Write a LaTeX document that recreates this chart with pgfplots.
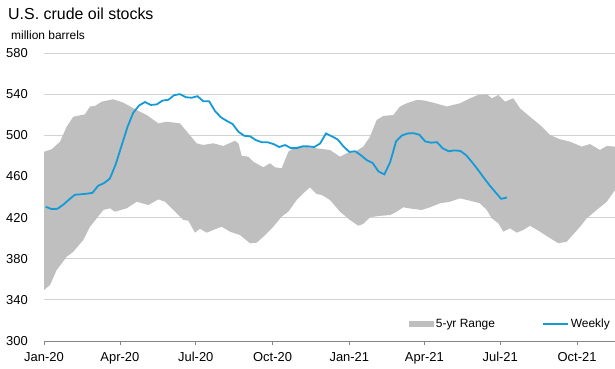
\documentclass[border=0pt]{standalone}
\usepackage{fontspec}
\setmainfont{Liberation Sans}
\usepackage{pgfplots}
\pgfplotsset{compat=1.18}
\usepgfplotslibrary{fillbetween}
\definecolor{bandgray}{RGB}{191,191,191}
\definecolor{eiablue}{RGB}{20,155,215}
\definecolor{gridgray}{RGB}{210,210,210}
\definecolor{axisgray}{RGB}{134,134,134}
\begin{document}
\begin{tikzpicture}
\begin{axis}[
  at={(0,0)}, anchor=south west,
  scale only axis, width=571bp, height=288bp,
  xmin=0, xmax=97.79, ymin=300, ymax=580,
  xtick={0,13,26,39.14,52.29,65.14,78.14,91.29},
  xticklabels={Jan-20,Apr-20,Jul-20,Oct-20,Jan-21,Apr-21,Jul-21,Oct-21},
  ytick={300,340,...,580},
  axis x line*=bottom, axis y line*=left,
  y axis line style={draw=none},
  x axis line style={-, draw=axisgray, line width=0.8bp},
  ymajorgrids, grid style={draw=gridgray, line width=0.8bp},
  ytick style={draw=none},
  xtick style={draw=axisgray, line width=0.8bp},
  tick align=outside, major tick length=4bp,
  tick label style={font=\fontsize{13}{15}\selectfont},
  /pgf/number format/assume math mode=true,
  yticklabel style={inner sep=0pt, anchor=east, xshift=-12bp},
  xticklabel style={inner sep=0pt, anchor=north, yshift=-7bp},
  legend columns=2,
  legend style={at={(1,0.059)}, anchor=east, xshift=-3.5bp, draw=none, fill=none,
    font=\fontsize{12}{14}\selectfont, inner sep=0pt, nodes={inner sep=1.5bp},
    /tikz/every even column/.append style={column sep=46bp}},
]
\addplot[name path=up, draw=none, forget plot] coordinates {
(0,484) (1.32,486.4) (2.74,493.8) (3.89,508.4) (5.02,518) (7.02,520.4) (7.88,528) (8.73,528.5)
(9.88,532.7) (11.87,535) (13.58,531.7) (15.88,524.6) (17.59,519.7) (19.58,511.6) (21.01,513.2)
(23.29,511.6) (24.71,501.9) (26.15,492.2) (27.28,490.6) (29.0,492.2) (30.71,489.6) (32.71,494.7)
(33.31,492) (33.86,480) (34.99,479.2) (35.85,474.3) (37.56,468.9) (38.71,472.8) (39.56,468.9)
(40.71,467.9) (41.84,484) (43.28,489) (45.56,488.3) (46.70,487.3) (48.98,485.7) (50.69,479.2)
(51.84,482.5) (53.55,485) (54.68,489) (55.83,498.6) (56.98,514.9) (58.11,518.8) (59.82,519.7)
(60.97,528) (62.12,531.1) (63.83,534.3) (64.96,534) (66.67,531.7) (68.97,528) (71.24,531.1)
(72.96,536) (74.38,539.2) (75.82,540.1) (76.68,536) (77.81,539.2) (78.95,532.7) (80.37,536)
(81.52,526.2) (83.23,518) (84.95,510) (86.66,500.3) (88.37,496.1) (90.09,493.8) (92.09,489)
(93.51,491.5) (95.22,485.7) (96.37,489.6) (97.79,489)
};
\addplot[name path=lo, draw=none, forget plot] coordinates {
(0,349.6) (1.03,354.4) (2.17,369) (3.89,382) (5.02,386.8) (6.73,398.2) (7.88,411.1) (9.03,419.3)
(10.16,427.4) (11.30,429) (12.16,425.7) (14.16,429) (15.88,435.4) (17.86,432.2) (19.58,437.7)
(20.72,435.4) (22.73,424.2) (23.86,417.6) (24.71,417) (25.86,405.3) (26.72,409.2) (27.86,405.3)
(29.0,408) (30.43,411.1) (31.85,406.3) (33.57,403) (35.28,395) (36.43,395.6) (37.56,401.4)
(39.27,411.1) (40.71,420.9) (41.84,425.7) (43.28,437.1) (44.41,443.6) (45.56,449.4) (46.70,442.9)
(47.56,442) (48.98,437.1) (50.69,425.7) (52.41,417.6) (53.83,412.1) (54.68,413.8) (55.83,420.3)
(57.25,421.5) (59.26,422.5) (60.40,425.7) (61.53,430) (62.97,428.6) (64.68,427.4) (66.11,430)
(67.82,433.9) (69.53,435.4) (71.24,438.7) (72.96,436.4) (74.67,433.9) (75.82,427.4) (76.68,419.3)
(77.81,414.4) (78.67,406.3) (79.81,409.6) (80.95,405.3) (82.09,408) (83.23,412) (84.95,406.3)
(86.66,400) (88.08,395) (89.52,396.5) (91.81,411.1) (92.94,419.3) (94.66,427.4) (96.37,435.4)
(97.79,446.8)
};
\addplot[fill=bandgray, draw=none,
  legend image code/.code={\fill[bandgray] (0bp,-3bp) rectangle (25bp,3bp);}]
  fill between[of=up and lo];
\addlegendentry{5-yr Range}
\addplot[eiablue, line width=1.8bp,
  legend image code/.code={\draw[eiablue, line width=1.8bp] (0bp,0bp) -- (25bp,0bp);}]
  coordinates {
(0.29,430.5) (1.29,428.3) (2.29,428.5) (3.29,432.5) (4.29,437.5) (5.29,442.2) (6.29,442.6)
(7.29,443.2) (8.29,444) (9.29,451) (10.29,453.5) (11.29,458) (12.29,472) (13.29,490)
(14.29,508) (15.29,522) (16.29,529) (17.29,532.3) (18.29,529.5) (19.29,530) (20.29,533.7)
(21.29,534.5) (22.29,539) (23.29,540) (24.29,537) (25.29,536.5) (26.29,538) (27.29,533)
(28.29,533) (29.29,523.5) (30.29,517.5) (31.29,514) (32.29,511) (33.29,503.5) (34.29,499.5)
(35.29,499) (36.29,495.3) (37.29,493.3) (38.29,493.2) (39.29,491.5) (40.29,488.6) (41.29,490.5)
(42.29,487.5) (43.29,487.5) (44.29,489.3) (45.29,489.2) (46.29,488.6) (47.29,492) (48.29,501.8)
(49.29,499) (50.29,496) (51.29,489.2) (52.29,483.8) (53.29,484.5) (54.29,480.5) (55.29,475.8)
(56.29,473) (57.29,464.8) (58.29,462) (59.29,474) (60.29,494) (61.29,499.8) (62.29,501.8)
(63.29,502) (64.29,500.5) (65.29,494) (66.29,492.8) (67.29,493.3) (68.29,487.3) (69.29,484.5)
(70.29,485.3) (71.29,484.8) (72.29,480.7) (73.29,474) (74.29,466.7) (75.29,459) (76.29,451.5)
(77.29,444.8) (78.29,438.2) (79.29,439.5)
};
\addlegendentry{Weekly}
\end{axis}
\node[anchor=base west, inner sep=0pt, font=\fontsize{16}{19}\selectfont] at (-36bp,321bp) {U.S. crude oil stocks};
\node[anchor=base west, inner sep=0pt, font=\fontsize{12}{14}\selectfont] at (-33bp,301bp) {million barrels};
\pgfresetboundingbox
\path[use as bounding box] (-44bp,-28bp) rectangle (571bp,341bp);
\end{tikzpicture}
\end{document}
